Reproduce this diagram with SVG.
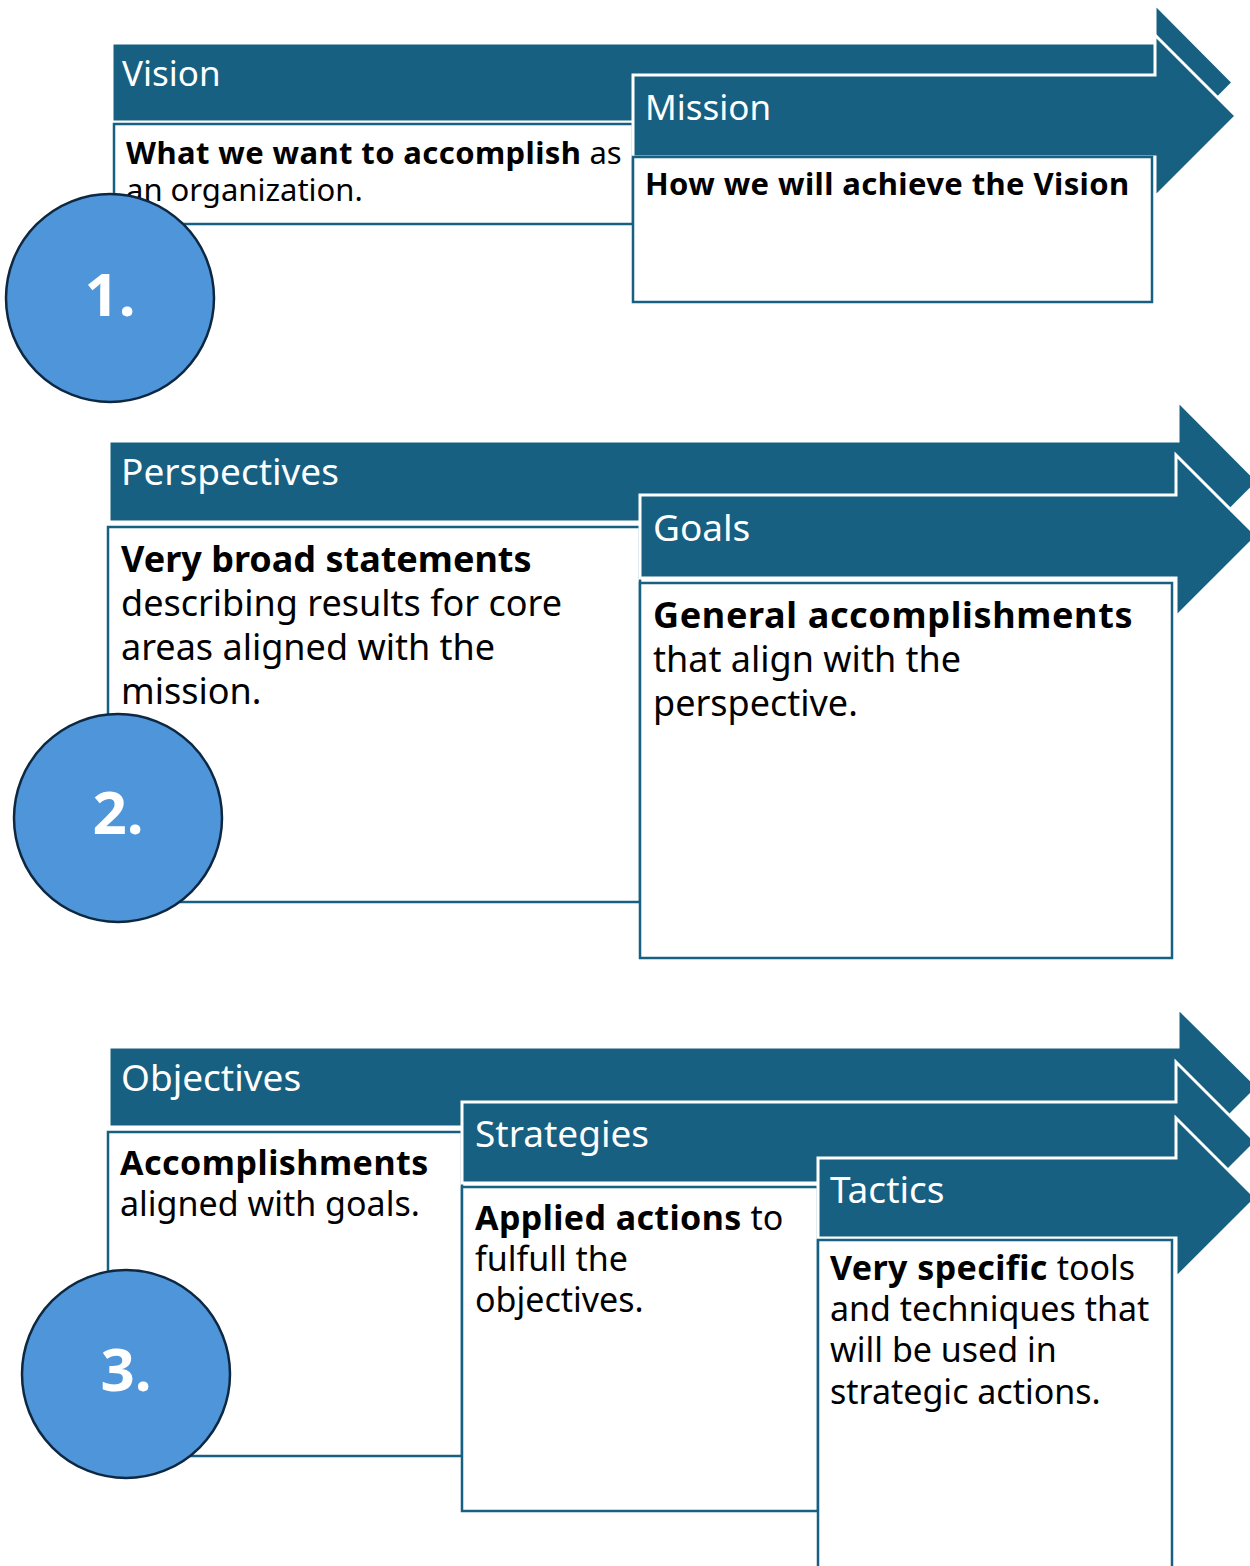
<svg xmlns="http://www.w3.org/2000/svg" width="1250" height="1566" viewBox="0 0 1250 1566">
  <style>
    .arrow { fill: #176081; stroke: #ffffff; stroke-width: 3; stroke-linejoin: miter; }
    .box { fill: #ffffff; stroke: #176081; stroke-width: 2.5; }
    .badge { fill: #4E95D9; stroke: #0E2841; stroke-width: 2.5; }
    .head { font-family: "Noto Sans", "Liberation Sans", sans-serif; fill: #ffffff; }
    .body { font-family: "Noto Sans", "Liberation Sans", sans-serif; fill: #000000; }
    .b { font-weight: bold; letter-spacing: 0.4px; }
    .num { font-family: "Noto Sans", "Liberation Sans", sans-serif; font-weight: bold; fill: #ffffff; text-anchor: middle; font-size: 60px; }
  </style>

  <!-- Section 1: Vision / Mission -->
  <g id="vision">
    <path class="arrow" d="M112,43 H1155 V4 L1233,82.5 L1155,161 V122 H112 Z"/>
    <rect class="box" x="114" y="124" width="519" height="100"/>
    <text class="head" x="122" y="86" font-size="35">Vision</text>
    <text class="body" font-size="31"><tspan x="126" y="164"><tspan class="b">What we want to accomplish</tspan> as</tspan><tspan x="126" y="201">an organization.</tspan></text>
  </g>
  <g id="mission">
    <path class="arrow" d="M633,75 H1155 V35 L1236,116 L1155,197 V157 H633 Z"/>
    <rect class="box" x="633" y="157" width="519" height="145"/>
    <text class="head" x="645" y="120" font-size="35">Mission</text>
    <text class="body b" x="645" y="195" font-size="31">How we will achieve the Vision</text>
  </g>
  <g id="step1">
    <circle class="badge" cx="110" cy="298" r="104"/>
    <text class="num" x="110" y="316">1.</text>
  </g>

  <!-- Section 2: Perspectives / Goals -->
  <g id="perspectives">
    <path class="arrow" d="M109,441 H1178 V401 L1258,481.5 L1178,562 V522 H109 Z"/>
    <rect class="box" x="108" y="527" width="532" height="375"/>
    <text class="head" x="121" y="485" font-size="37">Perspectives</text>
    <text class="body" font-size="36"><tspan class="b" x="121" y="572" style="letter-spacing:0">Very broad statements</tspan><tspan x="121" y="616">describing results for core</tspan><tspan x="121" y="660">areas aligned with the</tspan><tspan x="121" y="704">mission.</tspan></text>
  </g>
  <g id="goals">
    <path class="arrow" d="M640,495 H1176 V455 L1257,536 L1176,617 V578 H640 Z"/>
    <rect class="box" x="640" y="583" width="532" height="375"/>
    <text class="head" x="653" y="541" font-size="37">Goals</text>
    <text class="body" font-size="36"><tspan class="b" x="653" y="628" style="letter-spacing:0.65px">General accomplishments</tspan><tspan x="653" y="672">that align with the</tspan><tspan x="653" y="716">perspective.</tspan></text>
  </g>
  <g id="step2">
    <circle class="badge" cx="118" cy="818" r="104"/>
    <text class="num" x="118" y="834">2.</text>
  </g>

  <!-- Section 3: Objectives / Strategies / Tactics -->
  <g id="objectives">
    <path class="arrow" d="M109,1047 H1178 V1008 L1258,1087 L1178,1167 V1127 H109 Z"/>
    <rect class="box" x="108" y="1132" width="354" height="324"/>
    <text class="head" x="121" y="1091" font-size="37">Objectives</text>
    <text class="body" font-size="34"><tspan class="b" x="120" y="1175" style="letter-spacing:0.5px">Accomplishments</tspan><tspan x="120" y="1216">aligned with goals.</tspan></text>
  </g>
  <g id="strategies">
    <path class="arrow" d="M462,1102 H1176 V1062 L1256,1142 L1176,1222 V1183 H462 Z"/>
    <rect class="box" x="462" y="1187" width="356" height="324"/>
    <text class="head" x="475" y="1147" font-size="37">Strategies</text>
    <text class="body" font-size="34"><tspan x="475" y="1230"><tspan class="b">Applied actions</tspan> to</tspan><tspan x="475" y="1271">fulfull the</tspan><tspan x="475" y="1312">objectives.</tspan></text>
  </g>
  <g id="tactics">
    <path class="arrow" d="M818,1158 H1176 V1118 L1256,1198 L1176,1278 V1238 H818 Z"/>
    <rect class="box" x="818" y="1240" width="354" height="340"/>
    <text class="head" x="830" y="1203" font-size="37">Tactics</text>
    <text class="body" font-size="34"><tspan x="830" y="1280"><tspan class="b">Very specific</tspan> tools</tspan><tspan x="830" y="1321">and techniques that</tspan><tspan x="830" y="1362">will be used in</tspan><tspan x="830" y="1404">strategic actions.</tspan></text>
  </g>
  <g id="step3">
    <circle class="badge" cx="126" cy="1374" r="104"/>
    <text class="num" x="126" y="1391">3.</text>
  </g>

  <g id="connectors"/>
</svg>
